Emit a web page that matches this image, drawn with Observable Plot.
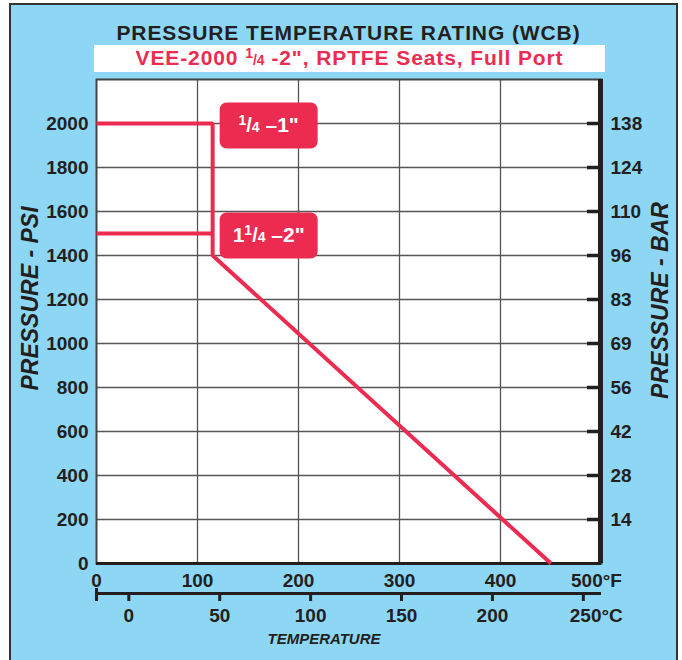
<!DOCTYPE html>
<html><head><meta charset="utf-8">
<script src="https://cdn.jsdelivr.net/npm/d3@7"></script>
<script src="https://cdn.jsdelivr.net/npm/@observablehq/plot@0.6"></script>
<style>
html,body{margin:0;padding:0;background:#fff;overflow:hidden;width:682px;height:660px;font-family:"Liberation Sans",Arial,sans-serif;}
#panel{position:absolute;left:9px;top:3px;width:669px;height:720px;box-sizing:border-box;border:2px solid #333;background:#8dd7f5;}
#title{position:absolute;left:96px;top:22px;width:505px;text-align:center;font-size:21px;line-height:21px;font-weight:bold;color:#231f20;letter-spacing:0.9px;white-space:nowrap;}
#subbox{position:absolute;left:94px;top:45px;width:511px;height:27px;background:#fff;}
#subtitle{position:absolute;left:94px;top:45px;width:511px;text-align:center;font-size:21px;line-height:25px;font-weight:bold;color:#ec2b51;letter-spacing:0.9px;white-space:nowrap;}
.fr{font-size:14px;letter-spacing:0;}
.fr sup{font-size:14px;vertical-align:0.5em;line-height:0;}
#chart{position:absolute;left:0;top:0;}
</style>
</head><body>
<div id="panel"></div>
<div id="title">PRESSURE TEMPERATURE RATING (WCB)</div>
<div id="subbox"></div>
<div id="subtitle">VEE-2000 <span class="fr"><sup>1</sup>/4</span> -2", RPTFE Seats, Full Port</div>
<div id="chart"></div>
<script>
// Temperature axis (°F) ticks and grid
const fTicks = [0, 100, 200, 300, 400];
const fEnd = [500];
const fGrid = [100, 200, 300, 400];
// Secondary temperature axis (°C)
const cTicks = [0, 50, 100, 150, 200];
const cEnd = [250];
// Pressure axes
const psiTicks = [0, 200, 400, 600, 800, 1000, 1200, 1400, 1600, 1800, 2000];
const psiGrid = [200, 400, 600, 800, 1000, 1200, 1400, 1600, 1800, 2000];
const barTicks = [200, 400, 600, 800, 1000, 1200, 1400, 1600, 1800, 2000];
const barLabels = [14, 28, 42, 56, 69, 83, 96, 110, 124, 138];
// Series
const seriesNames = ["¼ –1\"", "1¼ –2\""];
const tempA = [0, 115, 115, 450];
const psiA = [2000, 2000, 1400, 0];
const tempB = [0, 115];
const psiB = [1500, 1500];

const red = "#ec2b51";
const ink = "#231f20";
const toF = c => c * 9 / 5 + 32;
const toC = f => Math.round((f - 32) * 5 / 9);
const lineA = tempA.map((t, i) => ({t, p: psiA[i]}));
const lineB = tempB.map((t, i) => ({t, p: psiB[i]}));
const labels = [
  {name: seriesNames[0], t: tempA[1], p: psiA[1]},
  {name: seriesNames[1], t: tempB[1], p: psiB[1]}
];
const box = {draw(ctx) {
  const w = 49, h = 23, r = 7;
  ctx.moveTo(-w + r, -h); ctx.lineTo(w - r, -h); ctx.arcTo(w, -h, w, -h + r, r);
  ctx.lineTo(w, h - r); ctx.arcTo(w, h, w - r, h, r);
  ctx.lineTo(-w + r, h); ctx.arcTo(-w, h, -w, h - r, r);
  ctx.lineTo(-w, -h + r); ctx.arcTo(-w, -h, -w + r, -h, r); ctx.closePath();
}};

const chart = Plot.plot({
  width: 682, height: 660,
  marginLeft: 96, marginRight: 81, marginTop: 79, marginBottom: 97,
  x: {domain: [0, 500]},
  y: {domain: [0, 2200]},
  style: {background: "transparent", fontFamily: "'Liberation Sans', Arial, sans-serif", fontWeight: "bold", fontSize: "19px", color: ink, overflow: "visible"},
  marks: [
    Plot.frame({fill: "white"}),
    Plot.gridX(fGrid, {stroke: "#555", strokeOpacity: 1, strokeWidth: 1.3}),
    Plot.gridY(psiGrid, {stroke: "#555", strokeOpacity: 1, strokeWidth: 1.3}),
    Plot.ruleY(barTicks, {insetLeft: 491, stroke: ink, strokeWidth: 3.5}),
    Plot.frame({stroke: "#444", strokeWidth: 2}),
    Plot.ruleX(fEnd, {stroke: ink, strokeWidth: 5, dx: -1}),
    Plot.ruleY([0], {stroke: ink, strokeWidth: 3}),
    Plot.line(lineA, {x: "t", y: "p", stroke: red, strokeWidth: 4, strokeLinejoin: "miter", strokeLinecap: "butt"}),
    Plot.line(lineB, {x: "t", y: "p", stroke: red, strokeWidth: 4, strokeLinecap: "butt"}),
    Plot.dot(labels, {x: "t", y: "p", symbol: box, r: 10, fill: red, stroke: null, dx: 56, dy: 2}),
    Plot.text(labels, {x: "t", y: "p", text: "name", fill: "white", fontSize: 21, fontWeight: "bold", dx: 56, dy: 2, className: "serieslabel"}),
    Plot.axisY(psiTicks, {anchor: "left", tickSize: 0, tickPadding: 8, tickFormat: d => String(d), label: null}),
    Plot.axisY(barTicks, {anchor: "right", tickSize: 0, tickPadding: 9, tickFormat: d => String(barLabels[barTicks.indexOf(d)]), label: null}),
    Plot.axisX(fTicks, {anchor: "bottom", tickSize: 0, tickPadding: 10, tickFormat: d => String(d), label: null}),
    Plot.axisX(fEnd, {anchor: "bottom", tickSize: 0, tickPadding: 10, dx: -5, tickFormat: d => `${d}°F`, label: null}),
    Plot.ruleY([0], {dy: 30, stroke: ink, strokeWidth: 3}),
    Plot.axisX([0], {anchor: "bottom", tickSize: 13, dy: 25, strokeWidth: 3, tickFormat: () => "", label: null}),
    Plot.axisX(cTicks.map(toF), {anchor: "bottom", tickSize: 8, dy: 30, strokeWidth: 3, tickPadding: 7, tickFormat: f => String(toC(f)), label: null}),
    Plot.axisX(cEnd.map(toF), {anchor: "bottom", tickSize: 8, dy: 30, strokeWidth: 3, tickFormat: () => "", label: null}),
    Plot.axisX(cEnd.map(toF), {anchor: "bottom", tickSize: 0, dy: 38, tickPadding: 7, dx: 13, tickFormat: f => `${toC(f)}°C`, label: null}),
    Plot.text(["PRESSURE - PSI"], {frameAnchor: "left", textAnchor: "middle", rotate: -90, dx: -66, dy: -23, fontSize: 23, fontStyle: "italic", fontWeight: "bold", fill: ink}),
    Plot.text(["PRESSURE - BAR"], {frameAnchor: "right", textAnchor: "middle", rotate: -90, dx: 59, dy: -21, fontSize: 23, fontStyle: "italic", fontWeight: "bold", fill: ink}),
    Plot.text(["TEMPERATURE"], {frameAnchor: "bottom", dx: -25, dy: 80, fontSize: 15, fontStyle: "italic", fontWeight: "bold", fill: ink})
  ]
});
// typeset the ¼ in the series labels as a built-up fraction
d3.select(chart).selectAll("text").each(function() {
  const s = this.textContent;
  if (!s.includes("¼")) return;
  const [before, after] = s.split("¼");
  const t = d3.select(this);
  t.text(null);
  if (before) t.append("tspan").text(before);
  t.append("tspan").attr("font-size", 14).attr("dy", "-7").text("1");
  t.append("tspan").attr("font-size", 20).attr("dy", "7").text("/");
  t.append("tspan").attr("font-size", 14).text("4");
  t.append("tspan").text(after);
});
document.getElementById("chart").appendChild(chart);
</script>
</body></html>
